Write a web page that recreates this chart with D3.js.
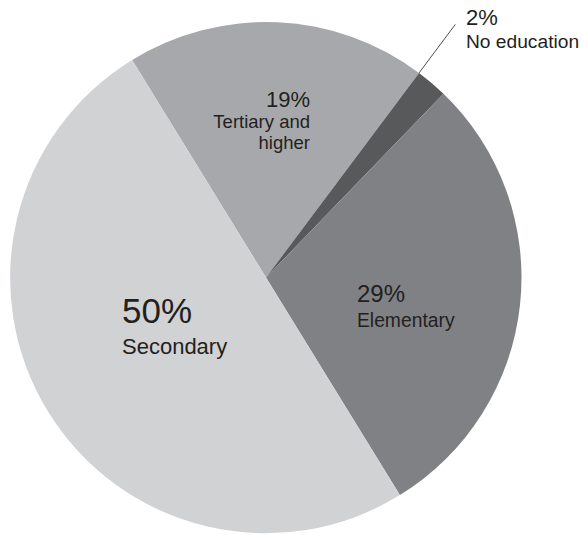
<!DOCTYPE html>
<html>
<head>
<meta charset="utf-8">
<script src="https://cdn.jsdelivr.net/npm/d3@7"></script>
<style>
  body { margin: 0; background: #fff; }
  text { font-family: "Liberation Sans", Arial, sans-serif; fill: #231f20; }
</style>
</head>
<body>
<div id="pie-chart"></div>
<script>
const width = 586;
const height = 535;

// slices in drawing order, clockwise from the top-left boundary
const categories = ['Tertiary and higher', 'No education', 'Elementary', 'Secondary'];
const shares = [19, 2, 29, 50];
const pctLabels = ['19%', '2%', '29%', '50%'];
const nameLines = [['Tertiary and', 'higher'], ['No education'], ['Elementary'], ['Secondary']];

const colors = ['#a7a8ab', '#58595b', '#808184', '#d1d2d4'];

const cx = 266, cy = 277.5, radius = 255.5;

// label placement relative to the centre (first baseline), plus font sizes
const labelLayout = [
  { dx: 44, dy: -171, anchor: 'end', pct: 22, name: 18.5, lead: 21 },
  { dx: 200, dy: -252.5, anchor: 'start', pct: 22, name: 19.2, lead: 23 },
  { dx: 91, dy: 24.5, anchor: 'start', pct: 24, name: 19.3, lead: 24.5 },
  { dx: -144, dy: 45.5, anchor: 'start', pct: 35, name: 22, lead: 31 }
];

const data = categories.map((c, i) => ({ komponent: c, andel: shares[i], i }));

const svg = d3.select('#pie-chart')
  .append('svg')
  .attr('width', width)
  .attr('height', height)
  .attr('viewBox', [0, 0, width, height]);

const pie = d3.pie()
  .sort(null)
  .value(d => d.andel)
  .startAngle(-31.6 * Math.PI / 180)
  .endAngle((360 - 31.6) * Math.PI / 180);

const arc = d3.arc().innerRadius(0).outerRadius(radius);

const arcs = pie(data);

const g = svg.append('g').attr('transform', `translate(${cx},${cy})`);

g.selectAll('path')
  .data(arcs)
  .join('path')
    .attr('d', arc)
    .attr('fill', d => colors[d.data.i]);

// leader line for the small slice, continuing its start boundary outward
const small = arcs[1];
const a = small.startAngle;
g.append('line')
  .attr('x1', Math.sin(a) * radius)
  .attr('y1', -Math.cos(a) * radius)
  .attr('x2', Math.sin(a) * radius * 1.237)
  .attr('y2', -Math.cos(a) * radius * 1.237)
  .attr('stroke', '#231f20')
  .attr('stroke-width', 0.8);

// labels
arcs.forEach(d => {
  const L = labelLayout[d.data.i];
  const t = g.append('text')
    .attr('text-anchor', L.anchor)
    .attr('x', L.dx)
    .attr('y', L.dy);
  t.append('tspan')
    .attr('x', L.dx)
    .attr('font-size', L.pct + 'px')
    .text(pctLabels[d.data.i]);
  nameLines[d.data.i].forEach((line, k) => {
    t.append('tspan')
      .attr('x', L.dx)
      .attr('dy', k === 0 ? L.lead : 21)
      .attr('font-size', L.name + 'px')
      .text(line);
  });
});
</script>
</body>
</html>
